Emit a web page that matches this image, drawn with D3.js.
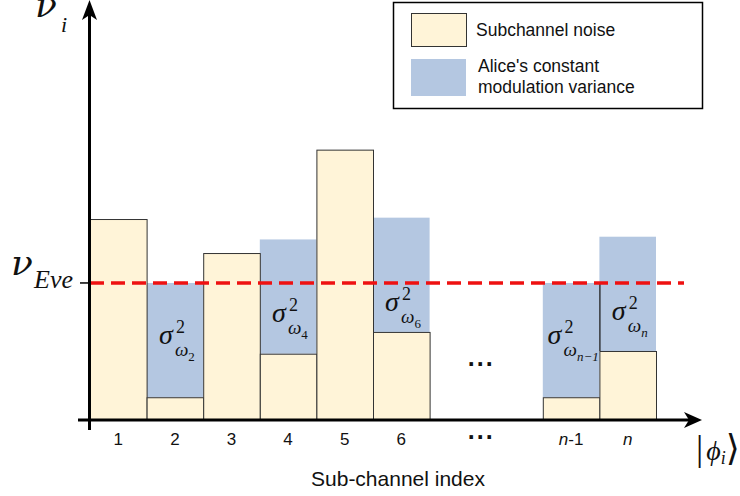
<!DOCTYPE html>
<html lang="en">
  <head>
    <meta charset="utf-8">
<style>
body { margin: 0; background: #fff; }
svg text { font-family: "Liberation Sans", Arial, sans-serif; fill: #111; }
.math { font-family: "Liberation Serif", "DejaVu Serif", serif; font-style: italic; }
.rm { font-style: normal; }
.dv { font-family: "DejaVu Serif", serif; }
</style>
</head>
<body>
<script src="https://d3js.org/d3.v7.min.js"></script>
<svg id="chart" width="740" height="496"></svg>
<script>
// sub-channel slots (two empty slots for the dots)
var slots = ["1", "2", "3", "4", "5", "6", "gapA", "gapB", "n-1", "n"];
var channels = ["1", "2", "3", "4", "5", "6", "n-1", "n"];
var noise = [7.35, 0.8, 6.1, 2.4, 9.9, 3.2, 0.8, 2.5];
var variance = [0, 4.2, 0, 4.2, 0, 4.2, 4.2, 4.2];
var omegaSub = ["", "2", "", "4", "", "6", "n\u22121", "n"];
var nuEve = 5.0;
var legendLabels = [["Subchannel noise"], ["Alice's constant", "modulation variance"]];

var yellow = "#fff4d8", blue = "#b4c7e1", red = "#ee1111";

var svg = d3.select("#chart");

var x = d3.scaleBand().domain(slots).range([90, 656]).padding(0);
var y = d3.scaleLinear().domain([0, 15.4]).range([419, 0]);

var data = channels.map(function(c, i) {
  return { c: c, noise: noise[i], v: variance[i], sub: omegaSub[i] };
});

// blue variance segments (no outline)
svg.append("g").selectAll("rect")
  .data(data.filter(function(d) { return d.v > 0; }))
  .join("rect")
    .attr("x", function(d) { return x(d.c); })
    .attr("width", x.bandwidth())
    .attr("y", function(d) { return y(d.noise + d.v); })
    .attr("height", function(d) { return y(d.noise) - y(d.noise + d.v); })
    .attr("fill", blue);

// yellow noise bars
svg.append("g").selectAll("rect")
  .data(data)
  .join("rect")
    .attr("x", function(d) { return x(d.c) + 0.5; })
    .attr("width", x.bandwidth())
    .attr("y", function(d) { return y(d.noise) + 0.5; })
    .attr("height", function(d) { return y(0) - y(d.noise); })
    .attr("fill", yellow)
    .attr("stroke", "#333")
    .attr("stroke-width", 1);

// separator between neighbouring variance stacks
for (var i = 0; i < data.length - 1; i++) {
  var a = data[i], b = data[i + 1];
  if (a.v > 0 && b.v > 0 && slots.indexOf(b.c) === slots.indexOf(a.c) + 1) {
    svg.append("line")
      .attr("x1", x(b.c) + 0.5).attr("x2", x(b.c) + 0.5)
      .attr("y1", y(Math.min(a.noise + a.v, b.noise + b.v)))
      .attr("y2", y(Math.max(a.noise, b.noise)))
      .attr("stroke", "#111").attr("stroke-width", 1.2);
  }
}

// sigma labels, centred between the Eve line and the noise top
data.filter(function(d) { return d.v > 0; }).forEach(function(d) {
  var g = svg.append("g");
  var s = g.append("text").attr("class", "math").attr("font-size", 28).text("\u03c3");
  var R = s.node().getBBox().width;
  g.append("text").attr("class", "math rm").attr("font-size", 18)
    .attr("x", R + 2).attr("y", -11).text("2");
  var w = g.append("text").attr("class", "math").attr("font-size", 19)
    .attr("x", R + 1).attr("y", 12);
  w.append("tspan").text("\u03c9");
  w.append("tspan").attr("font-size", 13).attr("dy", 5).attr("font-style", d.sub === "n\u22121" || d.sub === "n" ? "italic" : "normal").text(d.sub);
  var bb = g.node().getBBox();
  var cx = x(d.c) + x.bandwidth() / 2 + 2;
  var cy = (y(nuEve) + y(d.noise)) / 2;
  g.attr("transform", "translate(" + (cx - bb.x - bb.width / 2) + "," + (cy - bb.y - bb.height / 2) + ")");
});

// red dashed Eve level
svg.append("line")
  .attr("x1", 90).attr("x2", 684)
  .attr("y1", y(nuEve)).attr("y2", y(nuEve))
  .attr("stroke", red).attr("stroke-width", 3.5)
  .attr("stroke-dasharray", "14,7");

// axes
svg.append("line").attr("x1", 78).attr("x2", 690).attr("y1", 420).attr("y2", 420)
  .attr("stroke", "#000").attr("stroke-width", 3);
svg.append("line").attr("x1", 89.5).attr("x2", 89.5).attr("y1", 430).attr("y2", 12)
  .attr("stroke", "#000").attr("stroke-width", 3);
svg.append("path").attr("d", "M702,420 L684,412 L689,420 L684,428 Z").attr("fill", "#000");
svg.append("path").attr("d", "M89.5,0 L82,20 L89.5,15 L97,20 Z").attr("fill", "#000");
svg.append("line").attr("x1", 80).attr("x2", 89).attr("y1", y(nuEve)).attr("y2", y(nuEve))
  .attr("stroke", "#000").attr("stroke-width", 1.5);

// tick labels
var tl = svg.append("g").selectAll("text")
  .data(channels)
  .join("text")
    .attr("x", function(c) { return x(c) + x.bandwidth() / 2; })
    .attr("y", 445)
    .attr("text-anchor", "middle")
    .attr("font-size", 17);
tl.each(function(c) {
  var t = d3.select(this);
  if (c.indexOf("n") === 0) {
    t.append("tspan").attr("font-style", "italic").text("n");
    t.append("tspan").text(c.slice(1));
  } else {
    t.text(c);
  }
});

// dots in the gap
var gapX = (x("gapA") + x("gapB") + x.bandwidth()) / 2 - 5;
[366, 439].forEach(function(yy) {
  svg.append("text").attr("x", gapX).attr("y", yy).attr("text-anchor", "middle")
    .attr("font-size", 25).attr("font-weight", "bold").attr("letter-spacing", 2).text("...");
});

// axis titles
svg.append("text").attr("x", 398).attr("y", 486).attr("text-anchor", "middle")
  .attr("font-size", 21).text("Sub-channel index");

var nu = svg.append("text").attr("class", "math").attr("x", 35).attr("y", 17).attr("font-size", 36);
nu.append("tspan").attr("class", "dv").text("\u03bd");
nu.append("tspan").attr("x", 61).attr("y", 32).attr("font-size", 22).text("i");

var nuE = svg.append("text").attr("class", "math").attr("x", 11).attr("y", 275).attr("font-size", 36);
nuE.append("tspan").attr("class", "dv").text("\u03bd");
nuE.append("tspan").attr("x", 34).attr("y", 288).attr("font-size", 26).text("Eve");

var ket = svg.append("text").attr("class", "math").attr("x", 696).attr("y", 460).attr("font-size", 36);
ket.append("tspan").attr("font-style", "normal").text("|");
ket.append("tspan").attr("dx", 3).attr("font-size", 28).text("\u03d5");
ket.append("tspan").attr("dy", 4).attr("font-size", 18).text("i");
ket.append("tspan").attr("dy", -4).attr("font-style", "normal").text("\u27e9");

// legend
var lg = svg.append("g");
lg.append("rect").attr("x", 393.5).attr("y", 2.5).attr("width", 309).attr("height", 106)
  .attr("fill", "#fff").attr("stroke", "#000").attr("stroke-width", 1.5);
lg.append("rect").attr("x", 411.5).attr("y", 13.5).attr("width", 55).attr("height", 33)
  .attr("fill", yellow).attr("stroke", "#333");
lg.append("rect").attr("x", 411).attr("y", 59).attr("width", 55).attr("height", 37)
  .attr("fill", blue);
lg.append("text").attr("x", 476).attr("y", 36).attr("font-size", 17.5).text(legendLabels[0][0]);
lg.append("text").attr("x", 478).attr("y", 72).attr("font-size", 17.5).text(legendLabels[1][0]);
lg.append("text").attr("x", 478).attr("y", 93).attr("font-size", 17.5).text(legendLabels[1][1]);
</script>
</body>
</html>
